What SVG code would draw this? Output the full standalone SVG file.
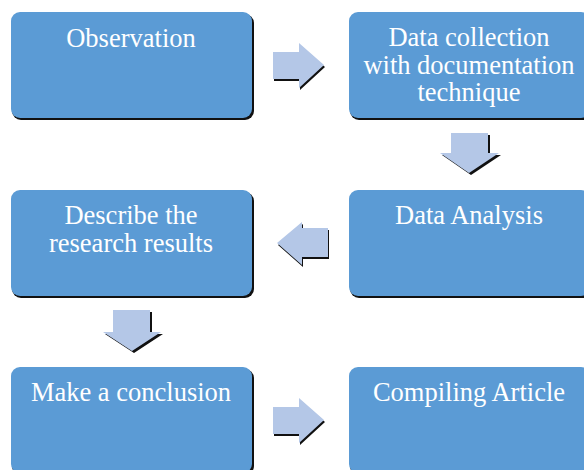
<svg xmlns="http://www.w3.org/2000/svg" width="584" height="470" viewBox="0 0 584 470">
<style>
.box{fill:#5b9bd5}
.sh{fill:#111}
.ar{fill:#b4c7e7}
</style>
<rect width="584" height="470" fill="#fff"/>
<g font-family="'Liberation Serif', 'Times New Roman', Times, serif" font-size="26.5" fill="#fff" text-anchor="middle">
<g id="n1"><rect class="sh" x="12" y="14" width="242" height="106" rx="9"/><rect class="box" x="11" y="12" width="241" height="106" rx="9"/><text x="131" y="47">Observation</text></g>
<g id="n2"><rect class="sh" x="350" y="14" width="242" height="106" rx="9"/><rect class="box" x="349" y="12" width="241" height="106" rx="9"/><text x="469" y="46">Data collection</text><text x="469" y="74">with documentation</text><text x="469" y="101">technique</text></g>
<g id="n3"><rect class="sh" x="350" y="192" width="242" height="106" rx="9"/><rect class="box" x="349" y="190" width="241" height="106" rx="9"/><text x="469" y="224">Data Analysis</text></g>
<g id="n4"><rect class="sh" x="12" y="192" width="242" height="106" rx="9"/><rect class="box" x="11" y="190" width="241" height="106" rx="9"/><text x="131" y="224">Describe the</text><text x="131" y="252">research results</text></g>
<g id="n5"><rect class="sh" x="12" y="369" width="242" height="106" rx="9"/><rect class="box" x="11" y="367" width="241" height="106" rx="9"/><text x="131" y="401">Make a conclusion</text></g>
<g id="n6"><rect class="sh" x="350" y="369" width="242" height="106" rx="9"/><rect class="box" x="349" y="367" width="241" height="106" rx="9"/><text x="469" y="401">Compiling Article</text></g>
</g>
<g id="connectors">
<path class="sh" d="M274 54 H300 V45 L325 67 L300 90 V81 H274 Z"/>
<path class="ar" d="M273 52 H299 V43 L324 65 L299 88 V79 H273 Z"/>
<path class="sh" d="M453 135 H490 V155 H501 L471 175 L442 155 H453 Z"/>
<path class="ar" d="M451 133 H488 V153 H499 L469 173 L440 153 H451 Z"/>
<path class="sh" d="M329 230 H303 V224 L278 245 L303 267 V259 H329 Z"/>
<path class="ar" d="M328 228 H302 V222 L277 243 L302 265 V257 H328 Z"/>
<path class="sh" d="M115 312 H152 V334 H163 L134 353 L105 334 H115 Z"/>
<path class="ar" d="M113 310 H150 V332 H161 L132 351 L103 332 H113 Z"/>
<path class="sh" d="M274 409 H300 V400 L325 422 L300 445 V436 H274 Z"/>
<path class="ar" d="M273 407 H299 V398 L324 420 L299 443 V434 H273 Z"/>
</g>
</svg>
